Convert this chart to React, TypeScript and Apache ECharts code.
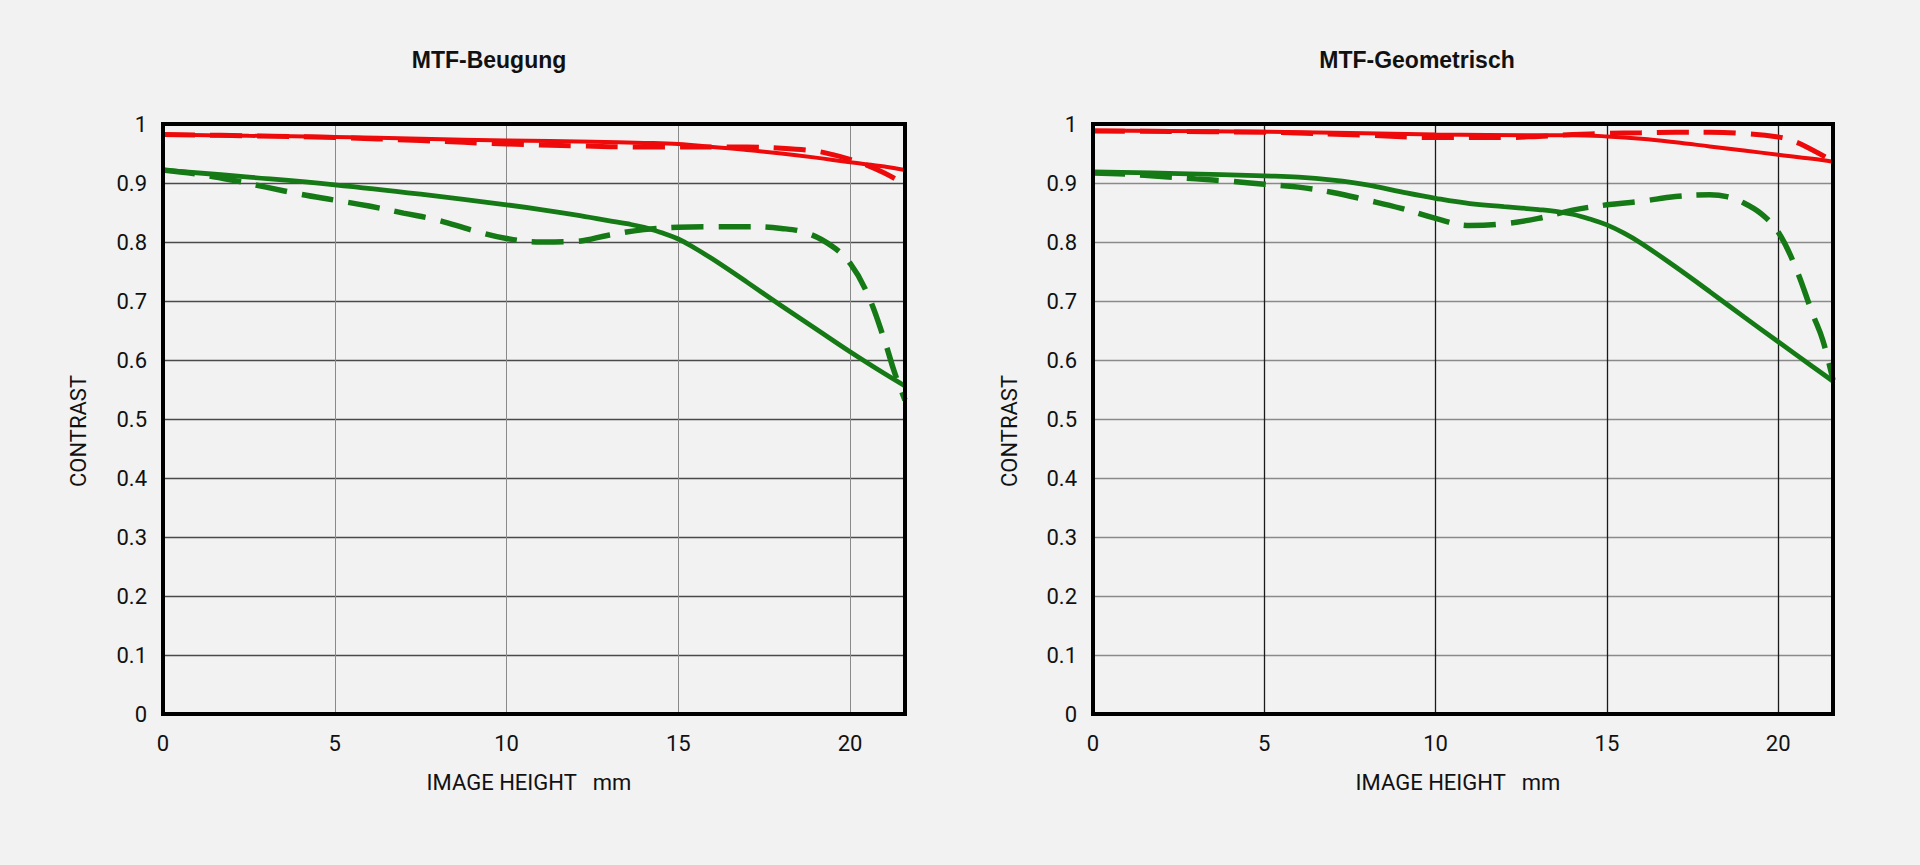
import React, { useEffect, useRef } from "react";
import * as echarts from "echarts";

// ---- Data (image height mm, contrast) ----
const titles = ["MTF-Beugung", "MTF-Geometrisch"];
const xTicks = [0, 5, 10, 15, 20];
const xMax = 21.6;

// MTF-Beugung (diffraction)
const redSolidB = [[0,0.982],[2.5,0.980],[5,0.978],[7.5,0.975],[10,0.972],[12.5,0.970],[14,0.968],[15,0.966],[16,0.961],[17,0.956],[18,0.950],[19,0.943],[20,0.935],[21,0.928],[21.6,0.922]];
const redDashB = [[0,0.982],[2.5,0.980],[5,0.977],[7.5,0.972],[10,0.966],[12,0.963],[14,0.961],[17,0.961],[18,0.959],[19,0.954],[19.5,0.948],[20,0.940],[20.5,0.930],[21,0.917],[21.6,0.898]];
const greenSolidB = [[0,0.922],[2.5,0.910],[5,0.897],[7.5,0.881],[10,0.863],[11,0.855],[12,0.846],[13,0.836],[13.5,0.831],[14,0.825],[14.5,0.816],[15,0.805],[15.5,0.789],[16,0.771],[17,0.732],[18,0.692],[19,0.653],[20,0.614],[21,0.577],[21.6,0.556]];
const greenDashB = [[0,0.922],[1,0.915],[2,0.905],[3,0.893],[4,0.881],[5,0.871],[6,0.861],[7,0.849],[8,0.837],[9,0.820],[10,0.806],[11,0.800],[12,0.801],[13,0.812],[14,0.821],[15,0.825],[16,0.826],[17,0.826],[18,0.823],[18.75,0.815],[19.5,0.792],[20,0.764],[20.5,0.713],[21,0.634],[21.3,0.578],[21.6,0.532]];

// MTF-Geometrisch (geometric)
const redSolidG = [[0,0.989],[5,0.987],[10,0.982],[13,0.981],[14,0.981],[15,0.979],[16,0.975],[17,0.969],[18,0.962],[19,0.955],[20,0.948],[21,0.941],[21.6,0.936]];
const redDashG = [[0,0.988],[5,0.986],[8,0.981],[10,0.977],[12,0.977],[13,0.979],[14,0.982],[15,0.984],[16,0.985],[17,0.986],[18,0.986],[19,0.984],[20,0.978],[20.5,0.970],[21,0.956],[21.6,0.937]];
const greenSolidG = [[0,0.919],[2.5,0.916],[5,0.912],[6,0.910],[7,0.905],[8,0.897],[9,0.885],[10,0.874],[11,0.865],[12,0.860],[13,0.855],[13.5,0.852],[14,0.847],[14.5,0.839],[15,0.829],[15.5,0.815],[16,0.798],[17,0.758],[18,0.716],[19,0.673],[20,0.631],[21,0.589],[21.6,0.564]];
const greenDashG = [[0,0.917],[1,0.915],[2,0.911],[3,0.907],[4,0.903],[5,0.898],[6,0.893],[7,0.884],[8,0.871],[9,0.857],[10,0.840],[11,0.828],[12,0.831],[13,0.840],[14,0.854],[15,0.863],[16,0.869],[17,0.877],[18,0.880],[18.5,0.877],[19,0.866],[19.5,0.848],[20,0.817],[20.5,0.758],[21,0.679],[21.3,0.634],[21.6,0.566]];

const RED = "#ee0a0a";
const GREEN = "#157a15";
const BG = "#f2f2f2";
const FONT = "Roboto, 'Liberation Sans', sans-serif";

function makeX(gridIndex: number, vColor: string, vWidth: number) {
  return {
    type: "value",
    gridIndex,
    min: 0,
    max: xMax,
    interval: 5,
    name: "IMAGE HEIGHT   mm",
    nameLocation: "middle",
    nameGap: 57,
    nameTextStyle: { fontFamily: FONT, fontSize: 22, color: "#111", padding: [0, 10, 0, 0] },
    axisLine: { show: false },
    axisTick: { show: false },
    axisLabel: {
      margin: 18,
      fontFamily: FONT,
      fontSize: 22,
      color: "#111",
      formatter: (v: number) => (xTicks.indexOf(v) >= 0 ? String(v) : ""),
    },
    splitLine: { show: true, lineStyle: { color: vColor, width: vWidth } },
  };
}

function makeY(gridIndex: number, hColor: string, hWidth: number, gap: number) {
  return {
    type: "value",
    gridIndex,
    min: 0,
    max: 1,
    interval: 0.1,
    name: "CONTRAST",
    nameLocation: "middle",
    nameRotate: 90,
    nameGap: gap,
    nameTextStyle: { fontFamily: FONT, fontSize: 22, color: "#111", padding: [0, 24, 0, 0] },
    axisLine: { show: false },
    axisTick: { show: false },
    axisLabel: { margin: 16, fontFamily: FONT, fontSize: 22, color: "#111" },
    splitLine: { show: true, lineStyle: { color: hColor, width: hWidth } },
  };
}

function line(data: number[][], idx: number, color: string, width: number, dashed: boolean, z: number) {
  return {
    type: "line",
    xAxisIndex: idx,
    yAxisIndex: idx,
    data,
    smooth: 0.4,
    showSymbol: false,
    symbol: "none",
    z,
    lineStyle: { color, width, type: dashed ? [32, 15] : "solid", cap: "butt" },
  };
}

export default function App() {
  const ref = useRef<HTMLDivElement>(null);
  useEffect(() => {
    if (!ref.current) return;
    const chart = echarts.init(ref.current, undefined, { renderer: "svg" });
    const titleStyle = { fontFamily: "'Liberation Sans', Arial, sans-serif", fontWeight: "bold", fontSize: 23, color: "#111" };
    chart.setOption({
      animation: false,
      backgroundColor: BG,
      title: [
        { text: titles[0], left: 484, top: 43, textAlign: "center", textStyle: titleStyle },
        { text: titles[1], left: 1412, top: 43, textAlign: "center", textStyle: titleStyle },
      ],
      grid: [
        { left: 163, top: 124, width: 742, height: 590, show: true, borderColor: "#000", borderWidth: 4, backgroundColor: "transparent", z: 10 },
        { left: 1093, top: 124, width: 740, height: 590, show: true, borderColor: "#000", borderWidth: 4, backgroundColor: "transparent", z: 10 },
      ],
      xAxis: [makeX(0, "#8a8a8a", 1), makeX(1, "#1a1a1a", 1.3)],
      yAxis: [makeY(0, "#4a4a4a", 1.4, 74), makeY(1, "#8a8a8a", 1.3, 73)],
      series: [
        line(greenDashB, 0, GREEN, 5.5, true, 2),
        line(greenSolidB, 0, GREEN, 4.8, false, 3),
        line(redDashB, 0, RED, 5, true, 4),
        line(redSolidB, 0, RED, 4, false, 5),
        line(greenDashG, 1, GREEN, 5.5, true, 2),
        line(greenSolidG, 1, GREEN, 4.8, false, 3),
        line(redDashG, 1, RED, 5, true, 4),
        line(redSolidG, 1, RED, 4, false, 5),
      ],
    });
    return () => chart.dispose();
  }, []);
  return (
    <div
      ref={ref}
      style={{ position: "fixed", left: 0, top: 0, width: 1920, height: 865, background: BG }}
    />
  );
}
